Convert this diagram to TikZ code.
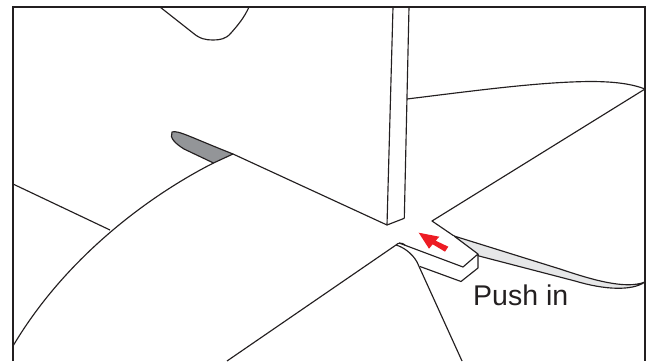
\documentclass[tikz,border=0pt]{standalone}
\usepackage{fontspec}
\setmainfont{Liberation Sans}
\definecolor{ink}{HTML}{231F20}
\definecolor{bladegray}{HTML}{939598}
\definecolor{slivergray}{HTML}{E6E7E8}
\definecolor{arrowred}{HTML}{ED1C24}
\tikzset{thin line/.style={draw=ink,line width=1.15pt,line join=round},
 frame line/.style={draw=ink,line width=2.4pt}}
\begin{document}
\begin{tikzpicture}[x=1pt,y=-1pt]
\useasboundingbox (0,0) rectangle (652,361);
% notch
\draw[thin line] (160,7) -- (193,33) .. controls (200,39) and (206,40) .. (213,40) .. controls (220,40) and (226,39) .. (231,33) .. controls (238,25) and (244,18) .. (249,7);
% blade
\path[fill=bladegray] (172,132) .. controls (178,130) and (190,137) .. (233,154) -- (213.5,163) -- (184,149) .. controls (176,144) and (169,138) .. (172,132) -- cycle;
\draw[thin line] (233,154) .. controls (190,137) and (178,130) .. (172,132) .. controls (169,138) and (176,144) .. (184,149) -- (213.5,163);
\draw[thin line] (233,154) -- (213.5,163);
% column and walls
\draw[thin line] (233,154) -- (387,225) -- (404.3,218.3);
\draw[thin line] (393,7) -- (387,225);
\draw[thin line] (409,7) -- (404.3,218.3);
% big curve
\draw[thin line] (213.5,163) .. controls (160,190) and (70,250) .. (13,346);
\draw[thin line] (13,184) -- (110,230);
% right
\draw[thin line] (407,99) .. controls (480,90) and (540,82) .. (590,81.5) .. controls (615,81.5) and (632,84) .. (645,89);
\draw[thin line] (645,89) -- (432,221) -- (454,236);
% sliver
\path[fill=slivergray,draw=ink,line width=1.15pt,line join=round] (454,236) -- (560,269) .. controls (590,279) and (625,290) .. (645,282) .. controls (632,291) and (605,290) .. (575,281) -- (479,256) -- cycle;
% tab
\path[fill=white,draw=ink,line width=1.15pt,line join=round] (454,236) -- (478,254) -- (463,267) -- (399,243);
\draw[thin line] (478,254) -- (478,268) -- (461,281.5) -- (420,266.5);
% fold
\draw[thin line] (227,361) -- (396,245) .. controls (398,242.5) and (402,242.5) .. (405,245);
\draw[thin line] (396,245) .. controls (403,247) and (412,253) .. (417,262) -- (462,361);
% arrow
\path[fill=arrowred] (418.7,232.7) -- (439.3,236.7) -- (435.7,240.7) -- (448.3,246.7) -- (445,251.7) -- (432.7,244.3) -- (429,248.7) -- cycle;
\node[text=ink,font=\fontsize{28.5}{32}\selectfont,anchor=base west,inner sep=0pt] (pushin) at (473,305) {Push in};
% frame
\draw[frame line] (13,361) -- (13,7) -- (645,7) -- (645,361);
\end{tikzpicture}
\end{document}
